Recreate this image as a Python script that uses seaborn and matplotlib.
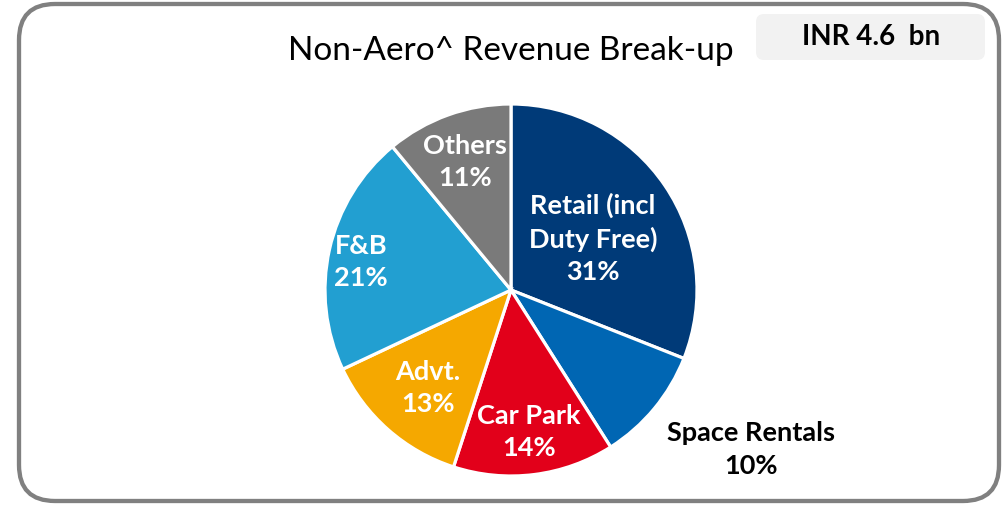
import numpy as np
import matplotlib
matplotlib.use('Agg')
import matplotlib.pyplot as plt
from matplotlib.patches import FancyBboxPatch
import seaborn as sns

# data
categories = ['Retail (incl\nDuty Free)', 'Space Rentals', 'Car Park', 'Advt.', 'F&B', 'Others']
shares = [31, 10, 14, 13, 21, 11]
title = 'Non-Aero^ Revenue Break-up'
total_label = 'INR 4.6  bn'

colors = ['#003A78', '#0066B3', '#E2001A', '#F5A800', '#229FD1', '#7A7A7A']
text_colors = ['white', 'black', 'white', 'white', 'white', 'white']
# radial distance of each label, in pie radii
label_dist = [0.52, 1.55, 0.77, 0.69, 0.82, 0.73]
label_ang_shift = [-2, 6, 0, 1, 2, 0]

sns.set_theme(style='white')
plt.rcParams['font.family'] = ['Lato', 'DejaVu Sans']

fig = plt.figure(figsize=(10.07, 5.05), dpi=100)
ax = fig.add_axes([0, 0, 1, 1])

cx, cy, r = 511, 215, 186
wedges, _ = ax.pie(shares, colors=colors, startangle=90, counterclock=False,
                   radius=r, center=(cx, cy),
                   wedgeprops=dict(edgecolor='white', linewidth=2.3))

for w, name, val, d, sh, tc in zip(wedges, categories, shares, label_dist, label_ang_shift, text_colors):
    mid = np.deg2rad((w.theta1 + w.theta2) / 2 + sh)
    x = cx + d * r * np.cos(mid)
    y = cy + d * r * np.sin(mid)
    ax.text(x, y, f'{name}\n{val}%', ha='center', va='center', color=tc,
            fontsize=19.5, fontweight='bold', linespacing=1.42)

# outer frame
ax.add_patch(FancyBboxPatch((19, 4), 980, 497, boxstyle='round,pad=0,rounding_size=36',
                            facecolor='none', edgecolor='#808080', linewidth=3.1, zorder=0))
# total box
ax.add_patch(FancyBboxPatch((756, 445), 229, 46, boxstyle='round,pad=0,rounding_size=8',
                            facecolor='#F2F2F2', edgecolor='none', zorder=0))
ax.text(871, 468, total_label, ha='center', va='center', fontsize=20, fontweight='bold', color='black')
ax.text(511, 454, title, ha='center', va='center', fontsize=24, color='black')

ax.set_xlim(0, 1007)
ax.set_ylim(0, 505)
ax.set_aspect('auto')
ax.axis('off')

fig.savefig('out.png', dpi=100)
